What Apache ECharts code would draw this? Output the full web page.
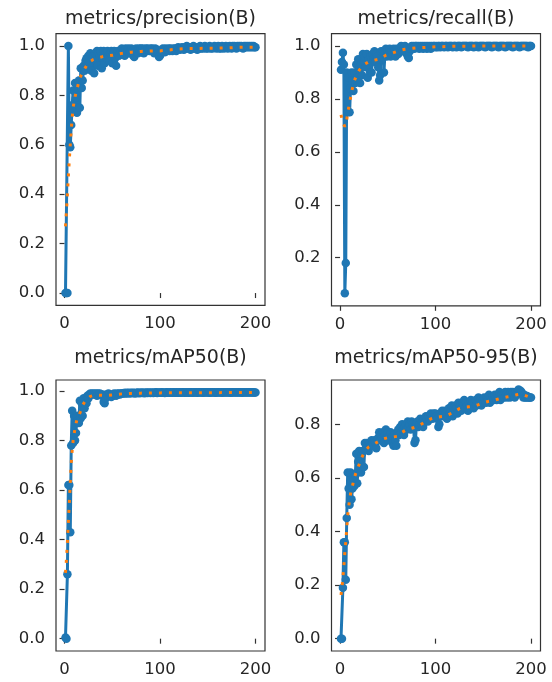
<!DOCTYPE html>
<html>
<head>
<meta charset="utf-8">
<script src="https://cdn.jsdelivr.net/npm/echarts@6.0.0/dist/echarts.min.js"></script>
<style>
html,body{margin:0;padding:0;background:#fff;}
#chart{width:552px;height:682px;}
</style>
</head>
<body>
<div id="chart"></div>
<script>
// ---- data (epochs 1..200) ----
const titles = ["metrics/precision(B)", "metrics/recall(B)", "metrics/mAP50(B)", "metrics/mAP50-95(B)"];
const xTicks = [0, 100, 200];

const precision = [
0,0,0,1.0,0.6,0.59,0.68,0.76,0.82,0.74,
0.85,0.79,0.73,0.84,0.86,0.75,0.91,0.83,0.86,0.92,
0.9,0.94,0.95,0.92,0.96,0.93,0.97,0.9,0.95,0.96,
0.89,0.97,0.94,0.98,0.92,0.97,0.96,0.98,0.91,0.95,
0.98,0.93,0.97,0.95,0.98,0.96,0.94,0.97,0.98,0.93,
0.97,0.98,0.95,0.92,0.97,0.98,0.96,0.97,0.98,0.99,
0.97,0.98,0.96,0.99,0.97,0.98,0.99,0.97,0.98,0.99,
0.98,0.96,0.955,0.98,0.99,0.98,0.97,0.99,0.98,0.99,
0.98,0.99,0.97,0.98,0.99,0.98,0.99,0.985,0.98,0.99,
0.98,0.99,0.98,0.97,0.99,0.98,0.985,0.97,0.955,0.96,
0.975,0.98,0.99,0.98,0.975,0.99,0.98,0.985,0.99,0.98,
0.99,0.985,0.98,0.99,0.985,0.99,0.98,0.99,0.995,0.99,
0.985,0.99,0.995,0.99,0.985,0.995,0.99,1.0,0.99,0.995,
0.99,0.985,0.995,0.99,1.0,0.99,0.995,0.99,0.985,0.995,
0.99,1.0,0.99,0.995,0.99,0.995,1.0,0.99,0.995,0.99,
0.995,1.0,0.99,0.995,0.99,0.995,1.0,0.995,0.99,0.995,
1.0,0.99,0.995,0.99,1.0,0.995,0.99,0.995,1.0,0.995,
0.99,0.995,1.0,0.995,0.99,1.0,0.995,1.0,0.995,0.99,
1.0,0.995,1.0,0.995,1.0,0.995,0.99,1.0,0.995,1.0,
0.995,1.0,0.995,1.0,0.995,1.0,0.995,1.0,0.995,0.995
];
const recall = [
0.91,0.94,0.975,0.93,0.065,0.18,0.9,0.75,0.88,0.75,
0.84,0.9,0.87,0.83,0.9,0.86,0.93,0.88,0.95,0.91,
0.86,0.93,0.89,0.97,0.94,0.96,0.92,0.97,0.88,0.95,
0.93,0.96,0.9,0.97,0.95,0.98,0.94,0.97,0.96,0.92,
0.87,0.89,0.98,0.95,0.98,0.9,0.97,0.99,0.96,0.98,
0.97,0.99,0.96,0.98,0.97,0.99,0.98,0.96,0.99,0.98,
0.97,0.99,0.98,1.0,0.99,0.98,0.99,1.0,0.99,0.97,
0.96,0.955,0.98,0.99,1.0,0.99,1.0,0.99,1.0,1.0,
0.995,1.0,0.99,1.0,0.995,1.0,0.99,1.0,0.995,1.0,
0.99,1.0,0.995,1.0,0.99,1.0,0.995,1.0,1.0,0.995,
1.0,0.995,1.0,1.0,0.995,1.0,1.0,1.0,0.995,1.0,
1.0,1.0,0.995,1.0,1.0,1.0,1.0,0.995,1.0,1.0,
1.0,0.995,1.0,1.0,1.0,1.0,0.995,1.0,1.0,1.0,
1.0,1.0,1.0,0.995,1.0,1.0,1.0,1.0,1.0,0.995,
1.0,1.0,1.0,1.0,0.995,1.0,1.0,1.0,1.0,1.0,
1.0,0.995,1.0,1.0,1.0,1.0,1.0,1.0,0.995,1.0,
1.0,1.0,1.0,1.0,1.0,0.995,1.0,1.0,1.0,1.0,
1.0,1.0,0.995,1.0,1.0,1.0,1.0,1.0,1.0,1.0,
0.995,1.0,1.0,1.0,1.0,1.0,1.0,0.995,1.0,1.0,
1.0,1.0,1.0,1.0,1.0,1.0,0.995,1.0,1.0,1.0
];
const map50 = [
0.005,0.0,0.26,0.62,0.62,0.43,0.78,0.92,0.79,0.9,
0.8,0.83,0.9,0.88,0.87,0.96,0.89,0.95,0.9,0.97,
0.93,0.96,0.95,0.98,0.97,0.985,0.99,0.985,0.99,0.985,
0.99,0.985,0.99,0.98,0.99,0.985,0.99,0.985,0.98,0.985,
0.955,0.95,0.97,0.985,0.98,0.99,0.985,0.98,0.975,0.985,
0.98,0.99,0.985,0.98,0.99,0.985,0.99,0.985,0.99,0.99,
0.99,0.992,0.99,0.993,0.99,0.992,0.993,0.99,0.992,0.993,
0.991,0.993,0.992,0.99,0.993,0.992,0.994,0.991,0.993,0.992,
0.994,0.992,0.993,0.991,0.994,0.993,0.992,0.994,0.993,0.992,
0.994,0.993,0.992,0.994,0.993,0.995,0.992,0.994,0.993,0.994,
0.993,0.995,0.993,0.994,0.992,0.994,0.995,0.993,0.994,0.993,
0.995,0.994,0.993,0.995,0.994,0.993,0.995,0.994,0.993,0.995,
0.994,0.993,0.995,0.994,0.995,0.993,0.994,0.995,0.994,0.993,
0.995,0.994,0.995,0.993,0.994,0.995,0.994,0.995,0.993,0.994,
0.995,0.994,0.995,0.994,0.993,0.995,0.994,0.995,0.994,0.995,
0.994,0.993,0.995,0.994,0.995,0.994,0.995,0.993,0.994,0.995,
0.994,0.995,0.994,0.995,0.993,0.994,0.995,0.994,0.995,0.994,
0.995,0.994,0.995,0.993,0.994,0.995,0.994,0.995,0.994,0.995,
0.994,0.995,0.994,0.995,0.994,0.993,0.995,0.994,0.995,0.994,
0.995,0.994,0.995,0.994,0.995,0.994,0.995,0.994,0.994,0.994
];
const map5095 = [
0.0,0.0,0.19,0.36,0.36,0.22,0.45,0.62,0.56,0.5,
0.62,0.52,0.56,0.6,0.57,0.61,0.69,0.58,0.66,0.7,
0.65,0.62,0.69,0.7,0.64,0.73,0.71,0.73,0.72,0.7,
0.73,0.72,0.74,0.73,0.72,0.74,0.73,0.71,0.74,0.75,
0.77,0.74,0.76,0.75,0.77,0.73,0.76,0.78,0.75,0.77,
0.74,0.76,0.77,0.75,0.73,0.72,0.76,0.74,0.72,0.77,
0.78,0.76,0.79,0.77,0.8,0.78,0.76,0.79,0.8,0.78,
0.81,0.79,0.8,0.78,0.81,0.8,0.79,0.73,0.74,0.8,
0.81,0.79,0.8,0.82,0.8,0.81,0.79,0.82,0.81,0.83,
0.82,0.81,0.83,0.82,0.84,0.83,0.82,0.84,0.83,0.84,
0.83,0.82,0.79,0.8,0.84,0.83,0.85,0.84,0.83,0.85,
0.84,0.82,0.85,0.86,0.84,0.85,0.87,0.83,0.86,0.85,
0.87,0.86,0.84,0.88,0.86,0.87,0.85,0.88,0.87,0.89,
0.86,0.88,0.87,0.85,0.88,0.86,0.89,0.87,0.88,0.86,
0.88,0.89,0.87,0.88,0.9,0.88,0.89,0.87,0.89,0.88,
0.9,0.89,0.88,0.9,0.89,0.91,0.88,0.9,0.89,0.9,
0.89,0.91,0.9,0.89,0.91,0.9,0.92,0.89,0.91,0.9,
0.91,0.9,0.92,0.91,0.9,0.92,0.91,0.9,0.92,0.91,
0.92,0.91,0.9,0.92,0.91,0.92,0.93,0.92,0.925,0.92,
0.91,0.9,0.91,0.9,0.9,0.905,0.9,0.9,0.9,0.9
];

// smoothed curves: [epoch, value]
const precisionSmooth = [[1,0.27],[2,0.33],[3,0.40],[4,0.47],[5,0.54],[6,0.60],[7,0.66],[8,0.71],[9,0.75],[10,0.775],[11,0.795],[12,0.81],[13,0.825],[14,0.84],[15,0.855],[16,0.87],[18,0.885],[20,0.9],[23,0.92],[26,0.935],[30,0.945],[35,0.952],[40,0.957],[45,0.96],[50,0.962],[55,0.966],[60,0.97],[70,0.975],[80,0.978],[90,0.98],[100,0.98],[110,0.984],[120,0.988],[130,0.99],[140,0.99],[150,0.991],[160,0.991],[170,0.992],[180,0.994],[190,0.995],[200,0.995]];
const recallSmooth = [[1,0.74],[2,0.725],[3,0.712],[4,0.705],[5,0.695],[6,0.689],[7,0.72],[8,0.75],[9,0.765],[10,0.785],[11,0.805],[12,0.825],[13,0.84],[14,0.855],[15,0.868],[16,0.878],[18,0.893],[20,0.908],[23,0.922],[26,0.932],[30,0.94],[35,0.946],[40,0.95],[44,0.957],[48,0.965],[52,0.97],[56,0.975],[60,0.98],[64,0.985],[68,0.988],[72,0.99],[80,0.993],[90,0.995],[100,0.997],[110,0.998],[120,0.999],[140,1.0],[200,1.0]];
const map50Smooth = [[1,0.266],[2,0.32],[3,0.39],[4,0.47],[5,0.55],[6,0.63],[7,0.71],[8,0.76],[9,0.8],[10,0.825],[11,0.85],[12,0.868],[13,0.885],[14,0.893],[15,0.9],[16,0.91],[17,0.92],[18,0.932],[19,0.942],[20,0.95],[22,0.962],[24,0.97],[27,0.978],[30,0.981],[35,0.983],[40,0.982],[45,0.982],[50,0.984],[55,0.986],[60,0.988],[70,0.99],[80,0.991],[100,0.992],[130,0.993],[160,0.993],[200,0.994]];
const map5095Smooth = [[1,0.163],[2,0.19],[3,0.23],[4,0.27],[5,0.32],[6,0.36],[7,0.41],[8,0.46],[9,0.49],[10,0.52],[11,0.54],[12,0.555],[13,0.57],[14,0.585],[15,0.6],[16,0.612],[18,0.63],[20,0.65],[22,0.67],[24,0.685],[26,0.7],[30,0.715],[35,0.725],[40,0.735],[45,0.745],[50,0.75],[55,0.752],[60,0.755],[65,0.77],[70,0.78],[75,0.785],[80,0.79],[85,0.8],[90,0.81],[95,0.82],[100,0.825],[105,0.828],[110,0.83],[115,0.838],[120,0.848],[125,0.858],[130,0.863],[135,0.865],[140,0.867],[145,0.873],[150,0.88],[155,0.885],[160,0.888],[165,0.893],[170,0.898],[175,0.902],[180,0.905],[185,0.91],[190,0.913],[195,0.906],[200,0.9]];

const yTicksList = [
  [0,0.2,0.4,0.6,0.8,1.0],
  [0.2,0.4,0.6,0.8,1.0],
  [0,0.2,0.4,0.6,0.8,1.0],
  [0,0.2,0.4,0.6,0.8]
];

// ---- layout ----
const rawList = [precision, recall, map50, map5095];
const smoothList = [precisionSmooth, recallSmooth, map50Smooth, map5095Smooth];
const yRanges = [[-0.05,1.05],[0.018,1.047],[-0.0497,1.044],[-0.046,0.965]];
const grids = [
  {left:56, top:33.6, width:209, height:271.8},
  {left:331.5, top:33.6, width:209, height:272.2},
  {left:56, top:380, width:209, height:271},
  {left:331.5, top:380, width:209, height:271}
];
const titleTops = [10, 10, 349, 349];

const FONT = "DejaVu Sans";
const TXT = "#262626";
const option = {
  animation:false,
  backgroundColor:"#fff",
  title:[], grid:[], xAxis:[], yAxis:[], series:[]
};
for (let i=0;i<4;i++){
  const g = grids[i];
  option.grid.push({left:g.left, top:g.top, width:g.width, height:g.height,
    show:true, borderColor:"#333", borderWidth:1.2, backgroundColor:"transparent"});
  option.title.push({text:titles[i], left:g.left+g.width/2, top:titleTops[i], textAlign:"center", padding:0,
    textStyle:{fontFamily:FONT, fontSize:19, fontWeight:"normal", color:TXT}});
  option.xAxis.push({type:"value", gridIndex:i, min:-8.95, max:209.95,
    axisLine:{show:false}, splitLine:{show:false},
    axisTick:{show:true, length:5, lineStyle:{color:"#333", width:1.2}, customValues:xTicks},
    axisLabel:{show:true, margin:10, fontFamily:FONT, fontSize:16.5, color:TXT, customValues:xTicks, formatter:v=>String(Math.round(v))}});
  option.yAxis.push({type:"value", gridIndex:i, min:yRanges[i][0], max:yRanges[i][1],
    axisLine:{show:false}, splitLine:{show:false},
    axisTick:{show:true, length:5, lineStyle:{color:"#333", width:1.2}, customValues:yTicksList[i]},
    axisLabel:{show:true, margin:11, fontFamily:FONT, fontSize:16.5, color:TXT, customValues:yTicksList[i], formatter:v=>v.toFixed(1)}});
  option.series.push({type:"line", xAxisIndex:i, yAxisIndex:i,
    data: rawList[i].map((v,k)=>[k+1,v]),
    symbol:"circle", symbolSize:8.5, showSymbol:true,
    itemStyle:{color:"#1f77b4"}, lineStyle:{color:"#1f77b4", width:3}, z:2});
  option.series.push({type:"line", xAxisIndex:i, yAxisIndex:i,
    data: smoothList[i], showSymbol:false, symbol:"none",
    lineStyle:{color:"#ff7f0e", width:3, type:[3,7]}, z:3});
}
const chart = echarts.init(document.getElementById("chart"), null, {renderer:"canvas"});
chart.setOption(option);
</script>
</body>
</html>
